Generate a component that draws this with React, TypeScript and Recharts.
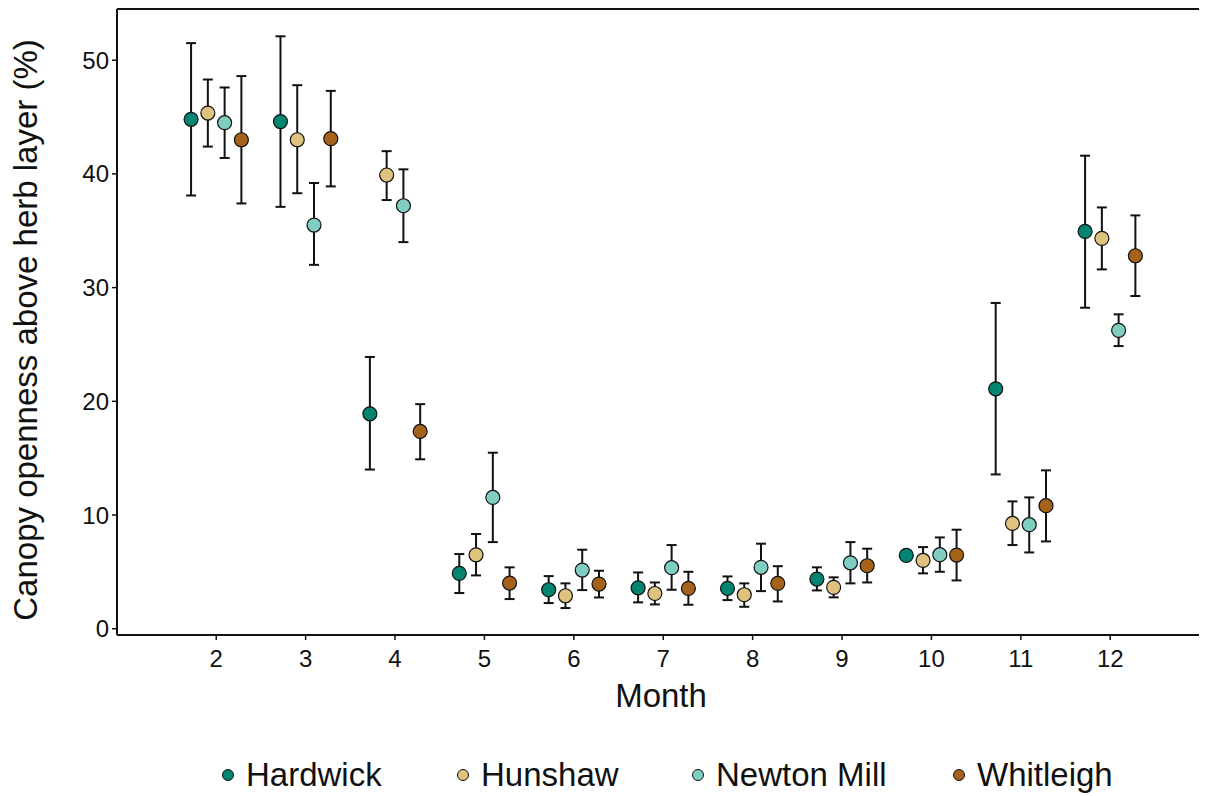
import React from 'react';
import { ScatterChart, Scatter, XAxis, YAxis, ErrorBar, ReferenceLine } from 'recharts';

const months = [2, 3, 4, 5, 6, 7, 8, 9, 10, 11, 12];
const monthTicks = [2, 3, 4, 5, 6, 7, 8, 9, 10, 11, 12];
const yTicks = [0, 10, 20, 30, 40, 50];

const sites = ['Hardwick', 'Hunshaw', 'Newton Mill', 'Whitleigh'];
const siteColors = ['#018571', '#dfc27d', '#80cdc1', '#a6611a'];
const dodgeOffsets = [-0.2813, -0.0938, 0.0938, 0.2813];

const hardwickMean = [44.8, 44.6, 18.9, 4.87, 3.43, 3.6, 3.55, 4.37, 6.45, 21.1, 34.94];
const hardwickLower = [38.1, 37.1, 14.0, 3.14, 2.26, 2.32, 2.52, 3.37, 6.2, 13.57, 28.23];
const hardwickUpper = [51.5, 52.1, 23.9, 6.57, 4.63, 4.95, 4.6, 5.4, 6.7, 28.65, 41.6];

const hunshawMean = [45.35, 43.0, 39.9, 6.5, 2.9, 3.1, 2.99, 3.64, 6.01, 9.26, 34.33];
const hunshawLower = [42.4, 38.3, 37.7, 4.69, 1.82, 2.14, 1.93, 2.76, 4.87, 7.36, 31.6];
const hunshawUpper = [48.3, 47.8, 42.0, 8.33, 3.99, 4.07, 3.99, 4.52, 7.18, 11.2, 37.05];

const newtonMean = [44.5, 35.5, 37.2, 11.55, 5.16, 5.37, 5.4, 5.8, 6.51, 9.15, 26.24];
const newtonLower = [41.4, 32.0, 34.0, 7.62, 3.4, 3.43, 3.31, 3.99, 5.01, 6.71, 24.86];
const newtonUpper = [47.6, 39.2, 40.4, 15.48, 6.95, 7.36, 7.48, 7.62, 8.03, 11.55, 27.65];

const whitleighMean = [43.0, 43.1, 17.35, 4.02, 3.93, 3.55, 3.99, 5.54, 6.48, 10.82, 32.8];
const whitleighLower = [37.4, 38.9, 14.9, 2.61, 2.75, 2.11, 2.4, 4.07, 4.25, 7.68, 29.26];
const whitleighUpper = [48.6, 47.3, 19.75, 5.4, 5.1, 5.01, 5.5, 7.04, 8.71, 13.93, 36.35];

const seriesValues = [
  { mean: hardwickMean, lower: hardwickLower, upper: hardwickUpper },
  { mean: hunshawMean, lower: hunshawLower, upper: hunshawUpper },
  { mean: newtonMean, lower: newtonLower, upper: newtonUpper },
  { mean: whitleighMean, lower: whitleighLower, upper: whitleighUpper },
];

const X_DOMAIN: [number, number] = [0.89, 13.06];
const Y_DOMAIN: [number, number] = [-0.55, 54.5];

const buildData = (i: number) =>
  months.map((m, k) => {
    const s = seriesValues[i];
    return {
      x: m + dodgeOffsets[i],
      y: s.mean[k],
      err: [s.mean[k] - s.lower[k], s.upper[k] - s.mean[k]],
    };
  });

const FONT = '"Liberation Sans", Arial, Helvetica, sans-serif';
const TEXT = '#111';

const legendLeft = [213, 448, 683, 944];

const YTitle = (props: any) => {
  const vb = props.viewBox || {};
  const cx = 29;
  const cy = (vb.y ?? 0) + (vb.height ?? 0) / 2 + 8;
  return (
    <text
      x={cx}
      y={cy}
      transform={`rotate(-90, ${cx}, ${cy})`}
      textAnchor="middle"
      fill={TEXT}
      fontSize={33}
      fontFamily={FONT}
    >
      Canopy openness above herb layer (%)
    </text>
  );
};

export default function App() {
  return (
    <div style={{ position: 'relative', width: 1199, height: 788, fontFamily: FONT }}>
      <ScatterChart width={1199} height={788} margin={{ top: 1, right: 2, bottom: 61, left: 0 }}>
        <XAxis
          type="number"
          dataKey="x"
          domain={X_DOMAIN}
          allowDataOverflow
          ticks={monthTicks}
          interval={0}
          height={100}
          tickSize={5}
          tickMargin={10}
          axisLine={{ stroke: '#111', strokeWidth: 2 }}
          tickLine={{ stroke: '#111', strokeWidth: 1.5 }}
          tick={{ fill: TEXT, fontSize: 24, fontFamily: FONT }}
          label={{
            value: 'Month',
            position: 'insideBottom',
            offset: 28,
            fill: TEXT,
            fontSize: 33,
            fontFamily: FONT,
          }}
        />
        <YAxis
          type="number"
          dataKey="y"
          domain={Y_DOMAIN}
          allowDataOverflow
          ticks={yTicks}
          interval={0}
          width={109}
          tickSize={5}
          tickMargin={3}
          axisLine={{ stroke: '#111', strokeWidth: 2 }}
          tickLine={{ stroke: '#111', strokeWidth: 1.5 }}
          tick={{ fill: TEXT, fontSize: 24, fontFamily: FONT }}
          label={<YTitle />}
        />
        <ReferenceLine y={Y_DOMAIN[1]} stroke="#111" strokeWidth={2} ifOverflow="visible" />
        <ReferenceLine x={X_DOMAIN[1]} stroke="#111" strokeWidth={1.5} ifOverflow="visible" />
        {sites.map((name, i) => (
          <Scatter
            key={name}
            name={name}
            data={buildData(i)}
            isAnimationActive={false}
            shape={(p: any) => (
              <circle cx={p.cx} cy={p.cy} r={7} fill={siteColors[i]} stroke="#111" strokeWidth={1.2} />
            )}
          >
            <ErrorBar dataKey="err" direction="y" width={5} stroke="#111" strokeWidth={2} isAnimationActive={false} />
          </Scatter>
        ))}
      </ScatterChart>
      {sites.map((name, i) => (
        <div
          key={name}
          style={{
            position: 'absolute',
            left: legendLeft[i],
            top: 750,
            height: 34,
            display: 'flex',
            alignItems: 'center',
            fontSize: 33,
            lineHeight: '34px',
            color: TEXT,
            whiteSpace: 'nowrap',
          }}
        >
          <svg width={14} height={14} style={{ marginRight: 11 }}>
            <circle cx={7} cy={7} r={5.5} fill={siteColors[i]} stroke="#111" strokeWidth={1} />
          </svg>
          <span>{name}</span>
        </div>
      ))}
    </div>
  );
}
